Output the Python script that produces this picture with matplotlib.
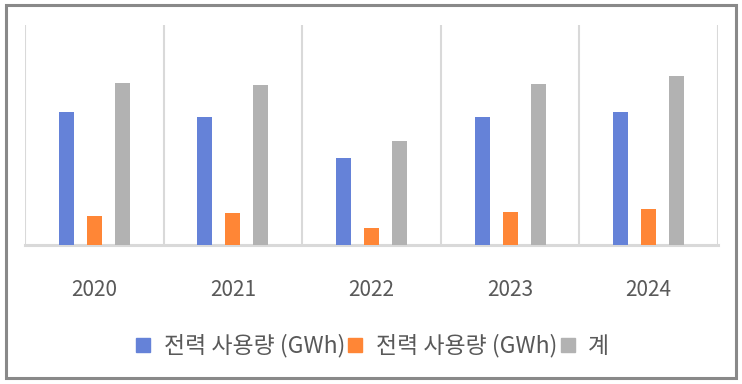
import matplotlib
matplotlib.use("Agg")
import matplotlib.pyplot as plt
from matplotlib.patches import Rectangle
from matplotlib.lines import Line2D
import numpy as np

plt.rcParams['font.family'] = ['Noto Sans CJK KR', 'DejaVu Sans']

years = ['2020', '2021', '2022', '2023', '2024']
series_names = ['전력 사용량 (GWh)', '전력 사용량 (GWh)', '계']
blue_vals = [132.5, 127.5, 86.5, 127.5, 132.5]
orange_vals = [28.5, 31.5, 16.5, 32.5, 35.5]
total_vals = [161.5, 159.5, 103.5, 160.5, 168.5]
colors = ['#6582D8', '#FF8636', '#B2B2B2']
text_color = '#595959'

fig = plt.figure(figsize=(7.42, 3.84), dpi=100)
W, H = 742, 384
ax = fig.add_axes([25 / W, 1 - 244.7 / H, 693 / W, (244.7 - 25) / H])

x = np.arange(len(years))
offset = 0.202
width = 0.108
for i, vals in enumerate([blue_vals, orange_vals, total_vals]):
    ax.bar(x + (i - 1) * offset, vals, width=width, color=colors[i], zorder=3)

ax.set_xlim(-0.5, len(years) - 0.5)
ax.set_ylim(0, 219.7)
for b in np.arange(-0.5, len(years), 1.0):
    ax.axvline(b, color='#D9D9D9', lw=1.5, zorder=1)
ax.axhline(0, color='#D9D9D9', lw=2.2, zorder=2, clip_on=False)

for s in ax.spines.values():
    s.set_visible(False)
ax.set_yticks([])
ax.set_xticks(x)
ax.set_xticklabels(years, fontsize=15, color=text_color)
ax.tick_params(axis='x', length=0, pad=25)

handles = [Line2D([], [], marker='s', linestyle='none', markersize=10,
                  markerfacecolor=c, markeredgecolor=c) for c in colors]
fig.legend(handles, series_names, loc='center', bbox_to_anchor=(0.5, 1 - 346 / H),
           ncol=3, frameon=False, fontsize=16.5, labelcolor=text_color,
           handlelength=0.9, handletextpad=0.45, columnspacing=0.0, borderpad=0)

fig.patches.append(Rectangle((6 / W, 1 - 378 / H), 730 / W, 373 / H,
                             transform=fig.transFigure, fill=False,
                             edgecolor='#898989', lw=2.2))

fig.savefig('out.png', dpi=100)
